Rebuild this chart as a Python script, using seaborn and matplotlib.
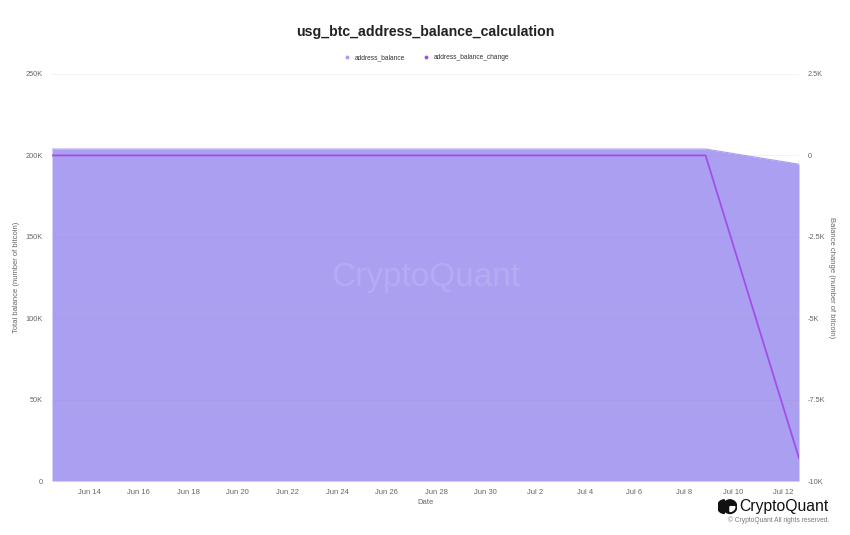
import pandas as pd
import seaborn as sns
import matplotlib.pyplot as plt
import matplotlib.dates as mdates
from matplotlib.patches import Wedge, Circle
from matplotlib.ticker import FuncFormatter

# data
dates = ["2024-06-12 12:00", "2024-07-08 21:00", "2024-07-12 15:30"]
address_balance = [203900, 203900, 194600]
address_balance_change = [0, 0, -9300]

left_ticks = [0, 50000, 100000, 150000, 200000, 250000]
left_labels = ["0", "50K", "100K", "150K", "200K", "250K"]
right_ticks = [-10000, -7500, -5000, -2500, 0, 2500]
right_labels = ["-10K", "-7.5K", "-5K", "-2.5K", "0", "2.5K"]

fill_color = "#ab9ff2"
line_color = "#a24fe6"
text_gray = "#666666"

df = pd.DataFrame({
    "date": pd.to_datetime(dates),
    "address_balance": address_balance,
    "address_balance_change": address_balance_change,
})

sns.set_theme(style="white")
plt.rcParams["font.family"] = ["Liberation Sans", "DejaVu Sans"]

fig = plt.figure(figsize=(8.5, 5.35), dpi=100)
ax = fig.add_axes([0.0612, 0.1009, 0.8788, 0.7608])

# balance area
ax.fill_between(df["date"], 0, df["address_balance"], color=fill_color, lw=0, zorder=2)
sns.lineplot(data=df, x="date", y="address_balance", ax=ax, color=fill_color, lw=0.8, zorder=2)
ax.set_ylim(0, 250000)
ax.set_yticks(left_ticks)
ax.set_yticklabels(left_labels)
for t in left_ticks[1:]:
    ax.axhline(t, color="#888888", lw=0.6, alpha=0.12, zorder=3)
ax.set_xlim(df["date"].iloc[0], df["date"].iloc[-1])

# change line on right axis
ax2 = ax.twinx()
sns.lineplot(data=df, x="date", y="address_balance_change", ax=ax2, color=line_color, lw=1.3, zorder=4)
ax2.set_ylim(-10000, 2500)
ax2.set_yticks(right_ticks)
ax2.set_yticklabels(right_labels)

ax.xaxis.set_major_locator(mdates.DayLocator(bymonthday=[2, 4, 6, 8, 10, 12, 14, 16, 18, 20, 22, 24, 26, 28, 30]))
ax.xaxis.set_major_formatter(FuncFormatter(lambda v, p: mdates.num2date(v).strftime("%b ") + str(mdates.num2date(v).day)))

for a in (ax, ax2):
    for s in a.spines.values():
        s.set_visible(False)
    a.tick_params(axis="y", length=0, labelsize=5.3, labelcolor=text_gray, pad=6.5)
    a.tick_params(axis="x", length=3, width=0.6, color="#cccccc", labelsize=5.5, labelcolor=text_gray, pad=3)
    a.grid(False)

ax.set_xlabel("Date", fontsize=5.5, color=text_gray, labelpad=2)
ax.set_ylabel("Total balance (number of bitcoin)", fontsize=5.5, color=text_gray)
ax.yaxis.set_label_coords(-0.043, 0.5)
ax2.set_ylabel("Balance change (number of bitcoin)", fontsize=5.5, color=text_gray, rotation=270, va="center")
ax2.yaxis.set_label_coords(1.043, 0.5)

# title and legend
fig.text(0.5, 0.94, "usg_btc_address_balance_calculation", ha="center", va="center",
         fontsize=10.2, fontweight="bold", color="#222222")
h1 = plt.Line2D([], [], marker="o", ls="", ms=1.8, color=fill_color)
h2 = plt.Line2D([], [], marker="o", ls="", ms=1.8, color=line_color)
fig.legend([h1, h2], ["address_balance", "address_balance_change"], loc="center",
           bbox_to_anchor=(0.5, 0.892), ncol=2, frameon=False, fontsize=4.8,
           handletextpad=0.1, columnspacing=2.2, labelcolor="#333333")

# watermark
ax.text(0.5, 0.5, "CryptoQuant", transform=ax.transAxes, ha="center", va="center",
        fontsize=24, color="white", alpha=0.13, zorder=5)

# logo bottom right
fig.text(0.87, 0.053, "CryptoQuant", ha="left", va="center", fontsize=11.3, color="#111111")
fig.text(0.976, 0.027, "© CryptoQuant All rights reserved.", ha="right", va="center",
         fontsize=4.8, color="#777777")
logo = fig.add_axes([0.843, 0.038, 0.025, 0.03])
logo.set_xlim(0, 2.4)
logo.set_ylim(-1, 1)
logo.set_aspect("equal")
logo.axis("off")
logo.add_patch(Wedge((0.85, 0), 0.85, 90, 270, color="#111111"))
logo.add_patch(Circle((1.55, 0), 0.85, color="#111111"))
logo.add_patch(Wedge((1.55, 0), 0.6, 270, 360, color="white"))

fig.savefig("out.png", dpi=100)
